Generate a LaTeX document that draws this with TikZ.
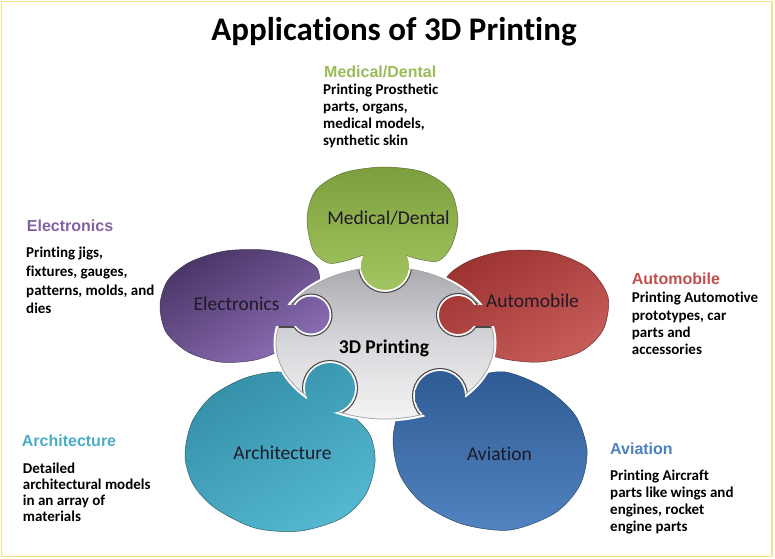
\documentclass[tikz,border=0pt]{standalone}
\usepackage{fontspec}
\setmainfont{Carlito}[Ligatures=NoCommon]
\newfontfamily\headfont{Liberation Sans}[Ligatures=NoCommon]
\definecolor{medgreen}{HTML}{9BBB59}
\definecolor{elpurple}{HTML}{8064A2}
\definecolor{autored}{HTML}{C0504D}
\definecolor{archteal}{HTML}{4BACC6}
\definecolor{avblue}{HTML}{4F81BD}
\definecolor{bordercol}{HTML}{F5E38A}
\definecolor{lblcol}{HTML}{1E1A28}
\definecolor{socketcol}{HTML}{4A4A4E}
\newcommand\shadein[3]{\begin{scope}\clip #2; \shade[#1] #3;\end{scope}}
\tikzset{
  grn/.style={top color={rgb,255:red,122;green,156;blue,58}, bottom color={rgb,255:red,164;green,198;blue,98}},
  prp/.style={top color={rgb,255:red,72;green,52;blue,100}, bottom color={rgb,255:red,142;green,112;blue,184}, shading angle=30},
  rd/.style={top color={rgb,255:red,156;green,50;blue,48}, bottom color={rgb,255:red,200;green,94;blue,90}, shading angle=30},
  tl/.style={top color={rgb,255:red,52;green,142;blue,168}, bottom color={rgb,255:red,84;green,184;blue,208}, shading angle=30},
  bl/.style={top color={rgb,255:red,46;green,90;blue,146}, bottom color={rgb,255:red,82;green,132;blue,194}},
  gry/.style={top color={rgb,255:red,166;green,166;blue,172}, bottom color={rgb,255:red,246;green,246;blue,246}, middle color={rgb,255:red,216;green,216;blue,220}},
  head/.style={anchor=base west, inner sep=0pt, font=\headfont\bfseries\fontsize{16}{18}\selectfont},
  bodytext/.style={anchor=base west, inner sep=0pt, font=\bfseries, text=black},
  lbl/.style={anchor=base, inner sep=0pt, text=lblcol, font=\fontsize{19.5}{22}\selectfont},
  edge/.style={line width=0.5pt},
  sock/.style={fill=white, draw=socketcol, line width=1.1pt}
}
\begin{document}
\begin{tikzpicture}[x=1pt,y=-1pt]
\useasboundingbox (0,0) rectangle (775,558);
\fill[white] (0,0) rectangle (775,558);
\draw[bordercol, line width=1.5pt] (1.5,1.5) rectangle (772,556.5);

% ---------- bodies ----------
\shadein{grn}{plot[smooth cycle] coordinates {(307,218) (316,190) (343,173) (383,167) (423,172) (450,190) (458,220) (451,247) (438,261) (418,259) (400,254) (385,258) (366,255) (345,261) (328,263) (313,250)}}{(300,160) rectangle (465,292)}
\draw[edge, medgreen!60!black] plot[smooth cycle] coordinates {(307,218) (316,190) (343,173) (383,167) (423,172) (450,190) (458,220) (451,247) (438,261) (418,259) (400,254) (385,258) (366,255) (345,261) (328,263) (313,250)};

\shadein{prp}{plot[smooth cycle] coordinates {(160,305) (168,280) (190,262) (225,251) (265,250) (298,257) (318,270) (318,300) (305,330) (285,348) (255,360) (220,362) (188,352) (166,332)}}{(155,245) rectangle (335,365)}
\draw[edge, elpurple!55!black] plot[smooth cycle] coordinates {(160,305) (168,280) (190,262) (225,251) (265,250) (298,257) (318,270) (318,300) (305,330) (285,348) (255,360) (220,362) (188,352) (166,332)};

\shadein{rd}{plot[smooth cycle] coordinates {(445,282) (467,262) (505,251) (550,252) (588,268) (608,297) (603,330) (580,352) (540,362) (500,358) (475,345) (465,315)}}{(435,245) rectangle (612,365)}
\draw[edge, autored!55!black] plot[smooth cycle] coordinates {(445,282) (467,262) (505,251) (550,252) (588,268) (608,297) (603,330) (580,352) (540,362) (500,358) (475,345) (465,315)};

\shadein{tl}{plot[smooth cycle] coordinates {(185,455) (192,422) (212,396) (245,378) (280,372) (310,382) (330,398) (352,415) (370,435) (375,462) (366,494) (342,518) (300,531) (255,528) (215,508) (193,484)}}{(180,360) rectangle (380,535)}
\draw[edge, archteal!55!black] plot[smooth cycle] coordinates {(185,455) (192,422) (212,396) (245,378) (280,372) (310,382) (330,398) (352,415) (370,435) (375,462) (366,494) (342,518) (300,531) (255,528) (215,508) (193,484)};

\shadein{bl}{plot[smooth cycle] coordinates {(393,442) (398,415) (412,400) (440,392) (470,378) (505,372) (545,388) (575,415) (587,450) (580,485) (555,513) (510,530) (462,524) (422,503) (400,475)}}{(388,365) rectangle (592,535)}
\draw[edge, avblue!55!black] plot[smooth cycle] coordinates {(393,442) (398,415) (412,400) (440,392) (470,378) (505,372) (545,388) (575,415) (587,450) (580,485) (555,513) (510,530) (462,524) (422,503) (400,475)};

% ---------- centre piece ----------
\draw[white, line width=5pt] (385,343) ellipse [x radius=109, y radius=76];
\shadein{gry}{(385,343) ellipse [x radius=109, y radius=76]}{(270,262) rectangle (500,425)}
\begin{scope}
  \clip (385,343) ellipse [x radius=109, y radius=76];
  \filldraw[sock] (385,266) circle [radius=26.5];
  \filldraw[sock] (280,303) rectangle (300,327);
  \filldraw[sock] (311,315) circle [radius=21];
  \filldraw[sock] (470,303) rectangle (494,327);
  \filldraw[sock] (458,315) circle [radius=21.5];
  \filldraw[sock] (330,388) circle [radius=27.5];
  \filldraw[sock] (440,396) circle [radius=27.5];
\end{scope}
\draw[gray!70, line width=0.8pt] (385,343) ellipse [x radius=109, y radius=76];

% ---------- knobs ----------
\shadein{grn}{(371,245) -- (399,245) -- (399,262) -- (371,262) -- cycle}{(300,160) rectangle (465,292)}
\shadein{grn}{(385,266) circle [radius=24]}{(300,160) rectangle (465,292)}
\shadein{prp}{(276,305) -- (300,305) -- (300,325) -- (276,325) -- cycle}{(155,245) rectangle (335,365)}
\shadein{prp}{(311,315) circle [radius=18.5]}{(155,245) rectangle (335,365)}
\shadein{rd}{(470,305) -- (496,305) -- (496,325) -- (470,325) -- cycle}{(435,245) rectangle (612,365)}
\shadein{rd}{(458,315) circle [radius=19]}{(435,245) rectangle (612,365)}
\shadein{tl}{(339.6,395.1) -- (320.4,380.9) -- (303.65,403.9) -- (322.85,418.1) -- cycle}{(180,360) rectangle (380,535)}
\shadein{tl}{(330,388) circle [radius=25]}{(180,360) rectangle (380,535)}
\shadein{bl}{(448.4,387.5) -- (468.15,408) -- (451.35,425) -- (431.6,404.5) -- cycle}{(388,365) rectangle (592,535)}
\shadein{bl}{(440,396) circle [radius=25]}{(388,365) rectangle (592,535)}

% ---------- labels in pieces ----------
\node[lbl] (lmed) at (388.5,224.3) {Medical/Dental};
\node[lbl] (lele) at (236.5,310.7) {Electronics};
\node[lbl] (laut) at (532.5,307.7) {Automobile};
\node[lbl, font=\bfseries\fontsize{19.5}{22}\selectfont, text=black] (lcen) at (384,353.3) {3D Printing};
\node[lbl] (larc) at (282.5,459.3) {Architecture};
\node[lbl] (lavi) at (499.5,460.7) {Aviation};

% ---------- title ----------
\node[anchor=base, inner sep=0pt, font=\bfseries\fontsize{33}{38}\selectfont] (title) at (394,40) {Applications of 3D Printing};

% ---------- side texts ----------
\node[head, text=medgreen] (hmed) at (324,77.7) {Medical/Dental};
\node[bodytext] (tmed) at (323,94.3) {\parbox[t]{6cm}{\raggedright\fontsize{15}{17.1}\selectfont Printing Prosthetic\\parts, organs,\\medical models,\\synthetic skin}};

\node[head, text=elpurple] (hele) at (26.7,231.7) {Electronics};
\node[bodytext] (tele) at (26,257.8) {\parbox[t]{6cm}{\raggedright\fontsize{15}{18.6}\selectfont Printing jigs,\\fixtures, gauges,\\patterns, molds, and\\dies}};

\node[head, text=autored] (haut) at (631.7,284) {Automobile};
\node[bodytext] (taut) at (631.7,302.7) {\parbox[t]{6cm}{\raggedright\fontsize{15}{17.4}\selectfont Printing Automotive\\prototypes, car\\parts and\\accessories}};

\node[head, text=archteal] (harc) at (21.7,446.7) {Architecture};
\node[bodytext] (tarc) at (22.7,473.3) {\parbox[t]{6cm}{\raggedright\fontsize{15}{16.2}\selectfont Detailed\\architectural models\\in an array of\\materials}};

\node[head, text=avblue] (havi) at (610,454.3) {Aviation};
\node[bodytext] (tavi) at (610,480) {\parbox[t]{6cm}{\raggedright\fontsize{15}{17}\selectfont Printing Aircraft\\parts like wings and\\engines, rocket\\engine parts}};
\end{tikzpicture}
\end{document}
